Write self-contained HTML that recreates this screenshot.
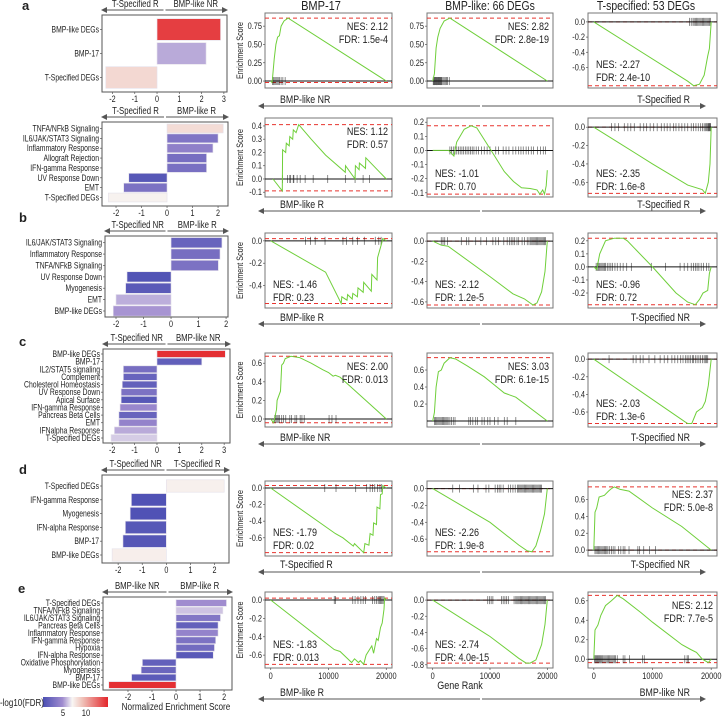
<!DOCTYPE html>
<html><head><meta charset="utf-8"><style>
html,body{margin:0;padding:0;background:#fff;}
svg{display:block;font-family:"Liberation Sans",Arial,sans-serif;}
</style></head><body>
<svg id="fig" width="722" height="716" viewBox="0 0 722 716" xmlns="http://www.w3.org/2000/svg">
<defs>
<linearGradient id="cbar" x1="0" x2="1" y1="0" y2="0">
<stop offset="0" stop-color="#4b4fb3"/><stop offset="0.3" stop-color="#a08ccf"/><stop offset="0.45" stop-color="#f8f6f4"/><stop offset="0.6" stop-color="#f0c4bb"/><stop offset="1" stop-color="#e3262b"/>
</linearGradient>
<marker id="ah" markerWidth="6" markerHeight="6" refX="5" refY="3" orient="auto"><path d="M0,0 L6,3 L0,6 z" fill="#555"/></marker>
</defs>
</svg>
<script>
// ===== Bar chart data =====
const barA1Labels=["BMP-like DEGs","BMP-17","T-Specified DEGs"];
const barA1Values=[2.85,2.2,-2.3];
const barA1Fdr=[14,5.2,8.5];
const barA2Labels=["TNFA/NFkB Signaling","IL6/JAK/STAT3 Signaling","Inflammatory Response","Allograft Rejection","IFN-gamma Response","UV Response Down","EMT","T-Specified DEGs"];
const barA2Values=[2.2,2.0,1.8,1.55,1.55,-1.5,-1.7,-2.3];
const barA2Fdr=[8.3,3.2,3.8,2.8,2.9,1.5,3.0,7.2];
const barBLabels=["IL6/JAK/STAT3 Signaling","Inflammatory Response","TNFA/NFkB Signaling","UV Response Down","Myogenesis","EMT","BMP-like DEGs"];
const barBValues=[1.85,1.78,1.72,-1.6,-1.65,-2.0,-2.1];
const barBFdr=[2.2,2.8,3.0,1.3,1.6,5.3,4.7];
const barCLabels=["BMP-like DEGs","BMP-17","IL2/STAT5 signaling","Complement","Cholesterol Homeostasis","UV Response Down","Apical Surface","IFN-gamma Response","Pancreas Beta Cells","EMT","IFNalpha Response","T-Specified DEGs"];
const barCValues=[3.05,2.0,-1.5,-1.5,-1.55,-1.6,-1.6,-1.65,-1.7,-1.7,-1.9,-2.05];
const barCFdr=[14.5,1.9,2.8,2.2,2.0,3.0,1.5,4.2,2.2,4.0,5.2,6.0];
const barDLabels=["T-Specified DEGs","IFN-gamma Response","Myogenesis","IFN-alpha Response","BMP-17","BMP-like DEGs"];
const barDValues=[2.4,-1.45,-1.5,-1.7,-1.8,-2.25];
const barDFdr=[7.3,1.2,1.2,1.5,1.4,7.4];
const barELabels=["T-Specified DEGs","TNFA/NFkB Signaling","IL6/JAK/STAT3 Signaling","Pancreas Beta Cells","Inflammatory Response","IFN-gamma Response","Hypoxia","IFN-alpha Response","Oxidative Phosphorylation","Myogenesis","BMP-17","BMP-like DEGs"];
const barEValues=[2.1,1.95,1.85,1.75,1.75,1.65,1.6,1.55,-1.4,-1.45,-1.85,-2.8];
const barEFdr=[4.5,5.8,3.3,2.0,4.0,3.0,2.6,1.6,2.0,2.3,1.7,14.5];
const barTicksA1=[-2,-1,0,1,2,3];
const barTicks2=[-2,-1,0,1,2];

// ===== GSEA data (rank, ES) =====
const a1c1Curve=[[0,0],[200,-0.02],[300,0.02],[600,0.3],[900,0.5],[1200,0.6],[1500,0.62],[1800,0.75],[2300,0.82],[3000,0.86],[20000,0]];
const a1c1Hits=[300,500,700,900,1100,1300,1500,1800,2100,2500];
const a1c1Ticks=[0,0.25,0.5,0.75];
const a1c2Curve=[[0,0],[300,0.1],[600,0.45],[900,0.6],[1300,0.72],[2000,0.82],[3000,0.86],[20000,0]];
const a1c2Hits=[100,200,300,400,500,600,700,800,900,1000,1100,1200,1300,1400,1500,1600,1800,2000,2200,2400,2600,2900];
const a1c2Ticks=[0,0.25,0.5,0.75];
const a1c3Curve=[[0,0],[16000,-0.78],[17000,-0.84],[18000,-0.82],[18800,-0.7],[19400,-0.45],[19700,-0.35],[20000,0]];
const a1c3Hits=[16300,16600,16900,17100,17300,17500,17700,17900,18100,18300,18500,18700,18900,19100,19300,19500,19700,19900];
const a1c3Ticks=[0,-0.2,-0.4,-0.6];
const a2c1Curve=[[400,0],[2000,-0.09],[2050,0.22],[2600,0.2],[2700,0.27],[3200,0.25],[3300,0.32],[3800,0.3],[3900,0.37],[4400,0.35],[4850,0.41],[7000,0.3],[9500,0.18],[12900,0.05],[12950,0.1],[14600,0.0],[14650,0.1],[15300,0.07],[15350,0.12],[16400,0.08],[16450,0.16],[20000,0]];
const a2c1Hits=[2050,2900,3300,3450,3900,4000,4570,5100,5960,7350,9860,12920,14600,15990,17100];
const a2c1Ticks=[-0.1,0,0.1,0.2,0.3,0.4];
const a2c2Curve=[[0,0],[2800,0],[3700,-0.04],[4200,0.06],[5500,0.15],[6700,0.175],[7700,0.16],[10200,0],[12500,-0.15],[14100,-0.22],[15500,-0.265],[17000,-0.27],[18200,-0.28],[18700,-0.31],[19200,-0.28],[19500,-0.31],[19800,-0.25],[20000,-0.14]];
const a2c2Hits=[3000,3300,3600,3900,4200,4500,4800,5100,5400,5700,6000,6300,6600,6900,7200,7600,8000,8500,9000,9500,10000,11000,11500,12300,12800,13300,14000,14500,15000,15400,15800,16300,16700,17200,17600,18300,18800,19300,19700];
const a2c2Ticks=[0.2,0.1,0,-0.1,-0.2,-0.3];
const a2c2TickLabels=["0.2","0.1","0.0","-0.1","-0.2","-0.1"];
const a2c3Curve=[[0,0],[3000,-0.12],[10000,-0.4],[16000,-0.63],[18500,-0.68],[19000,-0.72],[19500,-0.6],[19800,-0.4],[20000,0]];
const a2c3Hits=[3000,3600,4200,5200,5800,6300,6900,7900,8500,9000,9600,10200,10800,11500,12000,12500,13000,13600,14000,14500,15000,15500,16000,16600,17000,17400,17800,18200,18500,18800,19000,19200,19400,19500,19600,19700,19800,19900];
const a2c3Ticks=[0,-0.2,-0.4,-0.6];
const b1Curve=[[0,0],[9500,-0.28],[12200,-0.56],[12300,-0.5],[13200,-0.53],[13300,-0.48],[14100,-0.52],[14200,-0.47],[15000,-0.5],[15100,-0.42],[16000,-0.46],[16100,-0.37],[17400,-0.45],[17500,-0.3],[18400,-0.35],[18500,-0.15],[19200,-0.02],[19400,0.02],[20000,0]];
const b1Hits=[6000,6900,7700,9400,12500,13100,14200,15000,16200,18100,18700,19100];
const b1Ticks=[0,-0.2,-0.4];
const b2Curve=[[0,0],[1500,-0.04],[2700,-0.05],[10000,-0.35],[14000,-0.52],[16000,-0.57],[17500,-0.63],[18200,-0.61],[19000,-0.5],[19600,-0.3],[20000,0]];
const b2Hits=[1500,1800,2100,2600,5000,5900,6300,7500,8400,9400,10500,11000,11500,12400,13000,13400,13700,14000,14300,14700,15000,15600,16000,16500,16800,17100,17300,17500,17700,17900,18100,18300,18500,18700,18900,19100,19300,19500,19700];
const b2Ticks=[0,-0.2,-0.4,-0.6];
const b3Curve=[[0,0],[500,-0.02],[1000,0.1],[2000,0.2],[3500,0.22],[5000,0.22],[5700,0.2],[10000,0],[14000,-0.2],[16000,-0.27],[17300,-0.29],[18000,-0.25],[18600,-0.2],[19400,-0.18],[19700,-0.05],[20000,0]];
const b3Hits=[400,600,800,1000,1200,1400,1600,1800,2000,2300,2600,2900,3200,3600,4000,4500,5000,5600,6400,9800,12200,14700,15400,16000,16600,17000,17300,17600,17900,18300,18700,19200,19600];
const b3Ticks=[0.2,0.1,0,-0.1,-0.2];
const c1Curve=[[0,0],[500,-0.04],[1000,0.1],[1100,0.2],[1700,0.3],[1900,0.58],[2200,0.6],[2500,0.65],[3500,0.675],[5000,0.66],[7000,0.6],[9000,0.53],[10000,0.5],[10800,0.46],[11200,0.47],[12000,0.45],[20000,0]];
const c1Hits=[700,900,1100,1300,1500,1900,2200,2600,3300,3600,4200,4500,5100,5400,5800,10100,10600,11300];
const c1Ticks=[0,0.2,0.4,0.6];
const c2Curve=[[0,0],[300,0.1],[600,0.4],[1000,0.58],[1500,0.6],[2000,0.68],[3000,0.745],[4000,0.73],[6000,0.65],[9000,0.52],[12500,0.33],[14500,0.28],[20000,0]];
const c2Hits=[300,500,700,900,1100,1300,1500,1700,1900,2100,2300,2500,2700,3000,3300,3600,3900,6300,6600,7000,7500,7800,8600,9000,9600,10000,10800,11400,12500,13000,14500];
const c2Ticks=[0.2,0.4,0.6];
const c3Curve=[[0,0],[15500,-0.71],[16000,-0.73],[16700,-0.73],[17500,-0.6],[18500,-0.55],[19000,-0.48],[19500,-0.3],[20000,0]];
const c3Hits=[2600,6700,7200,7900,8400,9400,10400,11300,12000,12600,13300,13800,14300,14800,15200,15600,15900,16200,16500,16800,17000,17300,17600,17900,18200,18500,18800,19000,19200,19400];
const c3Ticks=[0,-0.2,-0.4,-0.6];
const d1Curve=[[0,0],[11200,-0.55],[12500,-0.6],[14300,-0.7],[14500,-0.67],[16100,-0.78],[16300,-0.67],[17000,-0.69],[17200,-0.55],[17700,-0.57],[17800,-0.42],[18300,-0.44],[18400,-0.23],[18900,-0.25],[19000,-0.08],[19300,-0.07],[19400,0.03],[20000,0]];
const d1Hits=[9350,11300,14700,16600,17200,17600,18000,18500,18900,19200];
const d1Ticks=[0,-0.2,-0.4,-0.6];
const d2Curve=[[0,0],[10000,-0.4],[15000,-0.67],[16500,-0.74],[17300,-0.75],[18000,-0.68],[18800,-0.5],[19500,-0.3],[20000,0]];
const d2Hits=[3500,4700,7100,7900,9300,9800,10900,11300,11600,11900,12300,13200,13600,14000,14400,14800,15000,15200,15400,15600,15800,16000,16200,16400,16600,16800,17000,17200,17400,17600,17800,18000,18200,18400,18600,18800,19000];
const d2Ticks=[0,-0.2,-0.4,-0.6];
const d3Curve=[[0,0],[200,0.45],[500,0.5],[900,0.63],[1800,0.65],[2500,0.7],[3000,0.73],[3500,0.75],[4500,0.72],[6000,0.7],[10000,0.5],[15000,0.28],[20000,0]];
const d3Hits=[200,400,600,800,1000,1200,1400,1600,1800,2000,2200,2400,2700,3000,3300,3600,4200,4600,5000,5300,6000,7500,7800,8500,9500,10500];
const d3Ticks=[0,0.2,0.4,0.6];
const e1Curve=[[0,0],[11000,-0.54],[12000,-0.56],[14000,-0.68],[14500,-0.64],[15200,-0.68],[15500,-0.66],[16100,-0.7],[16500,-0.6],[17500,-0.5],[17800,-0.58],[18300,-0.42],[18600,-0.44],[19000,-0.3],[19300,-0.25],[19600,-0.1],[19700,0.02],[20000,0]];
const e1Hits=[11000,11200,14200,14600,15100,15600,16000,16400,17600,18000,18300,18600,18800,19000,19200,19400,19600];
const e1Ticks=[0,-0.2,-0.4,-0.6];
const e2Curve=[[0,0],[10000,-0.45],[15000,-0.72],[16300,-0.78],[17000,-0.78],[18000,-0.74],[19000,-0.55],[19600,-0.3],[20000,0]];
const e2Hits=[9600,9900,10200,10500,12000,12300,12600,12900,13200,14200,14500,14700,14900,15100,15300,15500,15700,15900,16100,16300,16500,16700,16900,17100,17300,17500,17700,17900,18100,18300,18500,18700,18900,19100,19300,19500,19700];
const e2Ticks=[0,-0.2,-0.4,-0.6,-0.8];
const e3Curve=[[0,0],[200,0.3],[700,0.35],[1200,0.45],[2000,0.55],[3000,0.6],[4000,0.655],[5000,0.62],[8000,0.48],[10000,0.38],[15000,0.15],[16500,0.1],[17500,0.07],[18500,0],[19500,-0.035],[20000,0]];
const e3Hits=[100,250,400,550,700,850,1000,1150,1300,1500,1700,1900,2100,2300,2500,2700,2900,3100,3300,3500,3700,4000,5000,5300,6100,8300,8600,15500,15900,16100];
const e3Ticks=[0,0.2,0.4,0.6];
const rankTicks=[0,10000,20000];

const NS="http://www.w3.org/2000/svg";
const svg=document.getElementById('fig');
function mk(tag,attrs,parent){const e=document.createElementNS(NS,tag);for(const k in attrs)e.setAttribute(k,attrs[k]);(parent||svg).appendChild(e);return e;}
function txt(parent,x,y,s,size,anchor,sx,name,weight){
  const t=mk('text',{transform:`translate(${x},${y}) scale(${sx},1)`,'font-size':size,'text-anchor':anchor,fill:'#222'},parent);
  if(weight)t.setAttribute('font-weight',weight);
  t.textContent=s;
  
  
  return t;
}
function lerp(a,b,t){return Math.round(a+(b-a)*t);}
function hex(c){return [parseInt(c.slice(1,3),16),parseInt(c.slice(3,5),16),parseInt(c.slice(5,7),16)];}
const cStops=[[1,"#4b4fb3"],[4.5,"#a08ccf"],[7,"#f8f6f4"],[9.5,"#f0c4bb"],[14.8,"#e3262b"]];
function fdrColor(v){
  if(v<=cStops[0][0])return cStops[0][1];
  for(let i=1;i<cStops.length;i++){if(v<=cStops[i][0]){const t=(v-cStops[i-1][0])/(cStops[i][0]-cStops[i-1][0]);const a=hex(cStops[i-1][1]),b=hex(cStops[i][1]);return `rgb(${lerp(a[0],b[0],t)},${lerp(a[1],b[1],t)},${lerp(a[2],b[2],t)})`;}}
  return cStops[cStops.length-1][1];
}
function arrowPair(parent,xl,xm,xr,y,name){
  const l=mk('line',{x1:xm-1,y1:y,x2:xl,y2:y,stroke:'#555','stroke-width':1,'marker-end':'url(#ah)'},parent);
  
  
  const r=mk('line',{x1:xm+1,y1:y,x2:xr,y2:y,stroke:'#555','stroke-width':1,'marker-end':'url(#ah)'},parent);
  
  
}

function barChart(name,cfg,labels,values,fdr,ticks,headL,headR){
  const g=mk('g',{});
  
  
  const {x0,x1,y0,y1,xmin,xmax,c0,c1}=cfg;
  const xs=v=>x0+(v-xmin)/(xmax-xmin)*(x1-x0);
  const n=labels.length, pitch=(c1-c0)/(n-1), bh=pitch*0.9;
  const box=mk('rect',{x:x0,y:y0,width:x1-x0,height:y1-y0,fill:'#fff',stroke:'#555','stroke-width':1},g);
  
  
  labels.forEach((lab,i)=>{
    const cy=c0+i*pitch, v=values[i];
    const r=mk('rect',{x:Math.min(xs(0),xs(v)),y:cy-bh/2,width:Math.abs(xs(v)-xs(0)),height:bh,fill:fdrColor(fdr[i]),stroke:'#e4e0ea','stroke-width':0.6},g);
    
    
    const tk=mk('line',{x1:x0-2,x2:x0,y1:cy,y2:cy,stroke:'#555','stroke-width':0.7},g);
    
    
    txt(g,x0-3,cy+3,lab,9,'end',0.76,'y-tick-label');
  });
  ticks.forEach(t=>{
    const tk=mk('line',{x1:xs(t),x2:xs(t),y1:y1,y2:y1+2,stroke:'#555','stroke-width':0.7},g);
    
    
    txt(g,xs(t),y1+10,String(t),9,'middle',0.8,'x-tick-label');
  });
  const xm=(x0+x1)/2;
  arrowPair(g,x0,xm,x1,y0-5,name+'-header');
  txt(g,(x0+xm)/2+2,y0-8,headL,10,'middle',0.78,'header-left-label');
  txt(g,(xm+x1)/2,y0-8,headR,10,'middle',0.78,'header-right-label');
}

function gsea(name,x0,x1,y0,y1,ymin,ymax,curve,hits,ticks,tickLabels,nes,fdr,pos,showX){
  const g=mk('g',{});
  
  
  const pad=(x1-x0)*0.045;
  const xs=r=>x0+pad+r/20000*(x1-x0-2*pad);
  const ys=v=>y0+(ymax-v)/(ymax-ymin)*(y1-y0);
  const box=mk('rect',{x:x0,y:y0,width:x1-x0,height:y1-y0,fill:'#fff',stroke:'#777','stroke-width':1},g);
  
  
  const vals=curve.map(p=>p[1]);
  const mx=Math.max(...vals), mn=Math.min(...vals);
  [mx,mn].forEach((v,i)=>{
    const l=mk('line',{x1:x0,x2:x1,y1:ys(v),y2:ys(v),stroke:'#e8342f','stroke-width':1,'stroke-dasharray':'4,3'},g);
    
    
  });
  const z=mk('line',{x1:x0,x2:x1,y1:ys(0),y2:ys(0),stroke:'#111','stroke-width':1},g);
  
  
  hits.forEach(h=>{
    const l=mk('line',{x1:xs(h),x2:xs(h),y1:ys(0)-4,y2:ys(0)+4,stroke:'#111','stroke-width':0.8,'stroke-opacity':0.6},g);
    
    
  });
  const pl=mk('polyline',{points:curve.map(p=>xs(p[0]).toFixed(1)+','+ys(p[1]).toFixed(1)).join(' '),fill:'none',stroke:'#6fcf3a','stroke-width':1},g);
  
  
  ticks.forEach((t,i)=>{
    const tk=mk('line',{x1:x0-2,x2:x0,y1:ys(t),y2:ys(t),stroke:'#555','stroke-width':0.7},g);
    
    
    txt(g,x0-3,ys(t)+3,tickLabels[i],9,'end',0.82,'y-tick-label');
  });
  if(showX){rankTicks.forEach(t=>{
    const tk=mk('line',{x1:xs(t),x2:xs(t),y1:y1,y2:y1+2,stroke:'#555','stroke-width':0.7},g);
    
    
    txt(g,xs(t),y1+11,String(t),9,'middle',0.82,'x-tick-label');
  });}
  if(pos==='tr'){txt(g,x1-4,y0+17,'NES: '+nes,11,'end',0.82,'nes-label');txt(g,x1-4,y0+30,'FDR: '+fdr,11,'end',0.82,'fdr-label');}
  else{txt(g,x0+8,y1-20,'NES: '+nes,11,'start',0.82,'nes-label');txt(g,x0+8,y1-7,'FDR: '+fdr,11,'start',0.82,'fdr-label');}
}
const f2=a=>a.map(v=>v.toFixed(2)), f1=a=>a.map(v=>v.toFixed(1));
const C=[[265,392],[427,553],[588,717]];
const R={a1:[13,88],a2:[118,197],b:[233,308],c:[353,427],d:[481,556],e:[592,668]};

// titles
txt(svg,321,10,'BMP-17',13,'middle',0.85,'column-title-bmp17');
txt(svg,490,10,'BMP-like: 66 DEGs',13,'middle',0.8,'column-title-bmp-like');
txt(svg,646,10,'T-specified: 53 DEGs',13,'middle',0.8,'column-title-t-specified');
[['a',22,10],['b',19,222],['c',19,346],['d',19,474],['e',18,593]].forEach(p=>txt(svg,p[1],p[2],p[0],13,'start',1,'panel-label-'+p[0],'bold'));

// GSEA plots
gsea('gsea-a1-bmp17',C[0][0],C[0][1],...R.a1,-0.095,0.93,a1c1Curve,a1c1Hits,a1c1Ticks,f2(a1c1Ticks),'2.12','1.5e-4','tr');
gsea('gsea-a1-bmplike',C[1][0],C[1][1],...R.a1,-0.095,0.93,a1c2Curve,a1c2Hits,a1c2Ticks,f2(a1c2Ticks),'2.82','2.8e-19','tr');
gsea('gsea-a1-tspec',C[2][0],C[2][1],...R.a1,-0.87,0.117,a1c3Curve,a1c3Hits,a1c3Ticks,f1(a1c3Ticks),'-2.27','2.4e-10','bl');
gsea('gsea-a2-bmp17',C[0][0],C[0][1],...R.a2,-0.136,0.46,a2c1Curve,a2c1Hits,a2c1Ticks,f1(a2c1Ticks),'1.12','0.57','tr');
gsea('gsea-a2-bmplike',C[1][0],C[1][1],...R.a2,-0.33,0.23,a2c2Curve,a2c2Hits,a2c2Ticks,a2c2TickLabels,'-1.01','0.70','bl');
gsea('gsea-a2-tspec',C[2][0],C[2][1],...R.a2,-0.76,0.1,a2c3Curve,a2c3Hits,a2c3Ticks,f1(a2c3Ticks),'-2.35','1.6e-8','bl');
gsea('gsea-b-bmp17',C[0][0],C[0][1],...R.b,-0.6,0.07,b1Curve,b1Hits,b1Ticks,f1(b1Ticks),'-1.46','0.23','bl');
gsea('gsea-b-bmplike',C[1][0],C[1][1],...R.b,-0.66,0.08,b2Curve,b2Hits,b2Ticks,f1(b2Ticks),'-2.12','1.2e-5','bl');
gsea('gsea-b-tspec',C[2][0],C[2][1],...R.b,-0.315,0.26,b3Curve,b3Hits,b3Ticks,f1(b3Ticks),'-0.96','0.72','bl');
gsea('gsea-c-bmp17',C[0][0],C[0][1],...R.c,-0.086,0.71,c1Curve,c1Hits,c1Ticks,f1(c1Ticks),'2.00','0.013','tr');
gsea('gsea-c-bmplike',C[1][0],C[1][1],...R.c,-0.07,0.8,c2Curve,c2Hits,c2Ticks,f1(c2Ticks),'3.03','6.1e-15','tr');
gsea('gsea-c-tspec',C[2][0],C[2][1],...R.c,-0.77,0.07,c3Curve,c3Hits,c3Ticks,f1(c3Ticks),'-2.03','1.3e-6','bl');
gsea('gsea-d-bmp17',C[0][0],C[0][1],...R.d,-0.82,0.085,d1Curve,d1Hits,d1Ticks,f1(d1Ticks),'-1.79','0.02','bl');
gsea('gsea-d-bmplike',C[1][0],C[1][1],...R.d,-0.8,0.09,d2Curve,d2Hits,d2Ticks,f1(d2Ticks),'-2.26','1.9e-8','bl');
gsea('gsea-d-tspec',C[2][0],C[2][1],...R.d,-0.07,0.82,d3Curve,d3Hits,d3Ticks,f1(d3Ticks),'2.37','5.0e-8','tr');
gsea('gsea-e-bmp17',C[0][0],C[0][1],...R.e,-0.74,0.087,e1Curve,e1Hits,e1Ticks,f1(e1Ticks),'-1.83','0.013','bl',true);
gsea('gsea-e-bmplike',C[1][0],C[1][1],...R.e,-0.84,0.1,e2Curve,e2Hits,e2Ticks,f1(e2Ticks),'-2.74','4.0e-15','bl',true);
gsea('gsea-e-tspec',C[2][0],C[2][1],...R.e,-0.09,0.69,e3Curve,e3Hits,e3Ticks,f1(e3Ticks),'2.12','7.7e-5','tr',true);

// Enrichment score axis titles
Object.keys(R).forEach(k=>{
  const cy=(R[k][0]+R[k][1])/2;
  const t=mk('text',{transform:`translate(243,${cy}) rotate(-90) scale(0.8,1)`,'font-size':9,'text-anchor':'middle',fill:'#222'});
  t.textContent='Enrichment Score';
  
  
});
txt(svg,460,689,'Gene Rank',11,'middle',0.82,'x-axis-title-gene-rank');

// row arrows
const rowArrows=[[99,106,'BMP-like NR','T-Specified R'],[204,211,'BMP-like R','T-Specified R'],[317,324,'BMP-like R','T-Specified NR'],[437,444,'BMP-like NR','T-Specified NR'],[564,572,'T-Specified R','T-Specified NR'],[692,699,'BMP-like R','BMP-like NR']];
rowArrows.forEach((a,i)=>{
  arrowPair(svg,259,481,705,a[1],'row-arrow-'+i);
  txt(svg,280,a[0]+4,a[2],11,'start',0.8,'row-arrow-left-label');
  txt(svg,690,a[0]+4,a[3],11,'end',0.8,'row-arrow-right-label');
});

// bar charts
barChart('bar-chart-a1',{x0:102,x1:227,y0:15,y1:92,xmin:-2.47,xmax:3.14,c0:29.5,c1:77.5},barA1Labels,barA1Values,barA1Fdr,barTicksA1,'T-Specified R','BMP-like NR');
barChart('bar-chart-a2',{x0:102,x1:228,y0:122,y1:206,xmin:-2.55,xmax:2.39,c0:128.5,c1:197.5},barA2Labels,barA2Values,barA2Fdr,barTicks2,'T-Specified R','BMP-like R');
barChart('bar-chart-b',{x0:105,x1:228,y0:236,y1:317,xmin:-2.4,xmax:2.07,c0:242.7,c1:311},barBLabels,barBValues,barBFdr,barTicks2,'T-Specified NR','BMP-like R');
barChart('bar-chart-c',{x0:103,x1:230,y0:349,y1:443,xmin:-2.41,xmax:3.26,c0:354,c1:438},barCLabels,barCValues,barCFdr,barTicksA1,'T-Specified NR','BMP-like NR');
barChart('bar-chart-d',{x0:102,x1:229,y0:475,y1:563,xmin:-2.67,xmax:2.6,c0:486,c1:555},barDLabels,barDValues,barDFdr,barTicks2,'T-Specified NR','T-Specified R');
barChart('bar-chart-e',{x0:103,x1:232,y0:597,y1:690,xmin:-3.04,xmax:2.33,c0:603,c1:685},barELabels,barEValues,barEFdr,barTicks2,'BMP-like NR','BMP-like R');
txt(svg,176,710,'Normalized Enrichment Score',10,'middle',0.82,'x-axis-title-nes');

// colorbar legend
const cb=mk('rect',{x:43,y:697,width:65,height:10,fill:'url(#cbar)'});


txt(svg,0,706,'-log10(FDR)',10,'start',0.8,'colorbar-title');
txt(svg,63,716,'5',9,'middle',0.85,'colorbar-tick-5');
txt(svg,86,716,'10',9,'middle',0.85,'colorbar-tick-10');
</script>
</body></html>
